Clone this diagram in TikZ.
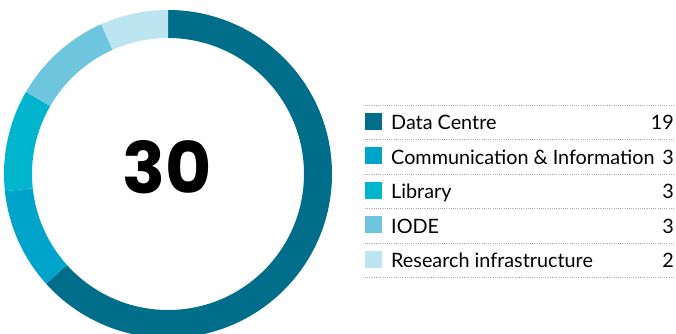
\documentclass[tikz,border=0pt]{standalone}
\usepackage{fontspec}
\usetikzlibrary{calc}
\setmainfont{Lato}
\newfontfamily\numfont{Poppins}
\definecolor{cData}{HTML}{006E8A}
\definecolor{cComm}{HTML}{00A3C9}
\definecolor{cLib}{HTML}{00B5CD}
\definecolor{cIode}{HTML}{6DC6DD}
\definecolor{cRes}{HTML}{BDE5F1}
\definecolor{cRule}{HTML}{A8A8A8}
\begin{document}
\begin{tikzpicture}[x=1pt,y=1pt,
  swatch/.style={fill=#1,draw=none,minimum size=17pt,inner sep=0pt,anchor=south west},
  lbl/.style={anchor=base west,inner sep=0pt,font=\fontsize{19.8}{20}\selectfont},
  val/.style={anchor=base east,inner sep=0pt,font=\fontsize{19.8}{20}\selectfont},
  rule/.style={draw=cRule,line width=0.7pt,dash pattern=on 0.7pt off 1.5pt}]
\useasboundingbox (0,0) rectangle (676,333);
\clip (0,0) rectangle (676,333);
\def\R{164}\def\r{136}
\coordinate (c) at (168,159);
% ring segments (clockwise from top)
\fill[cData] ($(c)+(90:\R)$) arc[start angle=90,end angle=-138,radius=\R] -- ($(c)+(-138:\r)$) arc[start angle=-138,end angle=90,radius=\r] -- cycle;
\fill[cComm] ($(c)+(-138:\R)$) arc[start angle=-138,end angle=-174,radius=\R] -- ($(c)+(-174:\r)$) arc[start angle=-174,end angle=-138,radius=\r] -- cycle;
\fill[cLib] ($(c)+(-174:\R)$) arc[start angle=-174,end angle=-210,radius=\R] -- ($(c)+(-210:\r)$) arc[start angle=-210,end angle=-174,radius=\r] -- cycle;
\fill[cIode] ($(c)+(-210:\R)$) arc[start angle=-210,end angle=-246,radius=\R] -- ($(c)+(-246:\r)$) arc[start angle=-246,end angle=-210,radius=\r] -- cycle;
\fill[cRes] ($(c)+(-246:\R)$) arc[start angle=-246,end angle=-270,radius=\R] -- ($(c)+(-270:\r)$) arc[start angle=-270,end angle=-246,radius=\r] -- cycle;
\node[inner sep=0pt,font=\numfont\bfseries\fontsize{71}{71}\selectfont] (total) at (167,166) {30};
% legend rules
\foreach \i/\yy in {0/228,1/193.5,2/159,3/124.5,4/90,5/55.5}{
  \coordinate (rl\i) at (365,\yy);
  \coordinate (rr\i) at (675,\yy);
  \draw[rule] (rl\i) -- (rr\i);
}
% legend rows
\foreach \i/\col/\name/\n [count=\k from 0] in {
  1/cData/Data Centre/19,
  2/cComm/Communication \& Information/3,
  3/cLib/Library/3,
  4/cIode/IODE/3,
  5/cRes/Research infrastructure/2}{
  \pgfmathsetmacro{\bl}{228-24.7-34.5*\k}
  \node[swatch=\col] (sw\i) at (365,\bl) {};
  \node[lbl] (lb\i) at (391,\bl) {\name};
  \node[val] (nv\i) at (674,\bl) {\n};
}
\end{tikzpicture}
\end{document}
